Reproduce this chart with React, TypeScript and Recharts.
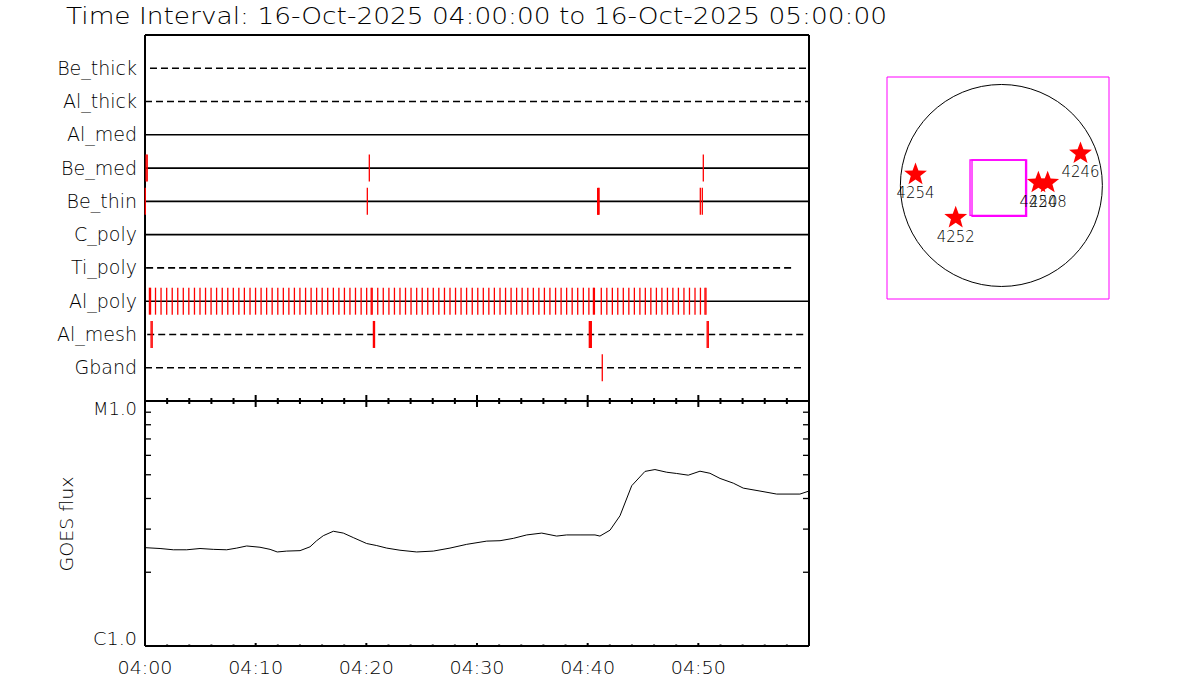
import React from 'react';
import {
  ComposedChart,
  Scatter,
  Line,
  XAxis,
  YAxis,
  ReferenceLine,
  ReferenceArea,
  ReferenceDot,
} from 'recharts';

const FONT = "'DejaVu Sans ExtraLight', 'DejaVu Sans', 'Liberation Sans', sans-serif";
const FW = 200;

// ---------- texts ----------
const titleText = 'Time Interval: 16-Oct-2025 04:00:00 to 16-Oct-2025 05:00:00';
const fluxAxisLabel = 'GOES flux';

// ---------- time axis (minutes after 04:00) ----------
const timeTicks = [0, 2, 4, 6, 8, 10, 12, 14, 16, 18, 20, 22, 24, 26, 28, 30, 32, 34, 36, 38, 40, 42, 44, 46, 48, 50, 52, 54, 56, 58, 60];
const majorTimes = [0, 10, 20, 30, 40, 50, 60];
const timeLabelValues = [0, 10, 20, 30, 40, 50];
const timeLabelTexts = ['04:00', '04:10', '04:20', '04:30', '04:40', '04:50'];

// ---------- detector rows (top to bottom) ----------
const rowNames = ['Be_thick', 'Al_thick', 'Al_med', 'Be_med', 'Be_thin', 'C_poly', 'Ti_poly', 'Al_poly', 'Al_mesh', 'Gband'];
const rowDashed = [true, true, false, false, false, false, true, false, true, true];
const rowStart = [0.45, 0, 0, 0, 0, 0, 0.1, 0, 0.2, 0];
const rowEnd = [60, 60, 60, 60, 60, 60, 58.6, 60, 59.7, 59.5];

// exposure marks (minutes after 04:00)
const beThickMarks: number[] = [];
const alThickMarks: number[] = [];
const alMedMarks: number[] = [];
const beMedMarks = [0.1, 0.2, 20.27, 50.45];
const beThinMarks = [0.03, 20.09, 40.9, 40.97, 41.03, 50.18, 50.36];
const cPolyMarks: number[] = [];
const tiPolyMarks: number[] = [];
const alPolyMarks = [
  0.4, 0.5, 0.95, 1.45, 1.96, 2.46, 2.96, 3.46, 3.96, 4.47, 4.97, 5.47, 5.97, 6.47, 6.98, 7.48, 7.98, 8.48, 8.98,
  9.49, 9.99, 10.49, 10.99, 11.49, 12.0, 12.5, 13.0, 13.5, 14.0, 14.51, 15.01, 15.51, 16.01, 16.51, 17.02, 17.52,
  18.02, 18.52, 19.02, 19.53, 20.03, 20.44, 20.53, 21.03, 21.53, 22.04, 22.54, 23.04, 23.54, 24.04, 24.55, 25.05,
  25.55, 26.05, 26.55, 27.06, 27.56, 28.06, 28.56, 29.06, 29.57, 30.07, 30.57, 31.07, 31.57, 32.08, 32.58, 33.08,
  33.58, 34.08, 34.59, 35.09, 35.59, 36.09, 36.59, 37.1, 37.6, 38.1, 38.6, 39.1, 39.61, 40.11, 40.52, 40.61, 41.23,
  41.73, 42.23, 42.72, 43.22, 43.72, 44.22, 44.72, 45.21, 45.71, 46.21, 46.71, 47.21, 47.7, 48.2, 48.7, 49.2, 49.7,
  50.19, 50.6, 50.69,
];
const alMeshMarks = [0.55, 0.65, 20.64, 20.74, 40.15, 40.24, 40.33, 50.8, 50.9];
const gbandMarks = [41.32];
const rowMarks = [beThickMarks, alThickMarks, alMedMarks, beMedMarks, beThinMarks, cPolyMarks, tiPolyMarks, alPolyMarks, alMeshMarks, gbandMarks];

// ---------- GOES flux (units of 1e-6 W/m^2, i.e. C-class level) ----------
const goesTime = [
  0, 1.36, 2.56, 3.77, 4.97, 6.17, 7.38, 8.29, 9.19, 10.39, 11.3, 11.95, 12.8, 14.01, 14.91, 15.51, 16.11, 17.02,
  17.92, 18.82, 20.03, 20.94, 21.84, 23.04, 24.55, 26.05, 27.56, 29.07, 30.88, 32.08, 33.28, 34.49, 35.85, 37.2,
  38.1, 39.31, 40.66, 41.11, 42.02, 42.92, 43.98, 45.18, 46.08, 47.14, 48.04, 49.09, 50.15, 51.05, 51.96, 53.16,
  54.06, 55.57, 57.08, 59.18, 60.0,
];
const goesLevel = [
  2.52, 2.5, 2.47, 2.47, 2.5, 2.48, 2.47, 2.51, 2.56, 2.53, 2.48, 2.42, 2.44, 2.45, 2.54, 2.69, 2.82, 2.94, 2.89,
  2.77, 2.62, 2.57, 2.51, 2.46, 2.42, 2.44, 2.51, 2.6, 2.68, 2.69, 2.75, 2.84, 2.89, 2.81, 2.84, 2.84, 2.84, 2.81,
  2.97, 3.4, 4.51, 5.16, 5.25, 5.12, 5.06, 4.98, 5.17, 5.07, 4.83, 4.62, 4.41, 4.29, 4.17, 4.17, 4.29,
];
const fluxTicks = [1e-6, 2e-6, 3e-6, 4e-6, 5e-6, 6e-6, 7e-6, 8e-6, 9e-6, 1e-5];
const fluxLabelValues = [1e-6, 1e-5];
const fluxLabelTexts = ['C1.0', 'M1.0'];

// ---------- solar map (arcsec) ----------
const arNumbers = ['4254', '4252', '4246', '4250', '4248'];
const arX = [-816, -434, 752, 352, 440];
const arY = [105, -306, 305, 27, 27];
const fovX1 = [-298, -279];
const fovX2 = [230, 240];
const fovY1 = [-285, -294];
const fovY2 = [242, 242];
const mapXDomain = [-1087, 1023];
const mapYDomain = [-1079, 1031];

// ---------- derived tables ----------
const markData = rowMarks.flatMap((list, i) => list.map((t) => ({ t, row: 10 - i })));
const goesData = goesTime.map((t, i) => ({ t, flux: goesLevel[i] * 1e-6 }));
const arData = arNumbers.map((n, i) => ({ x: arX[i], y: arY[i], label: n }));

// ---------- custom ticks ----------
function makeTimeTick(dir: number, majorLen: number, minorLen: number, labels: boolean) {
  return (props: any) => {
    const { x, y, payload } = props;
    const v = payload.value;
    const isMajor = majorTimes.includes(v);
    const len = isMajor ? majorLen : minorLen;
    const li = timeLabelValues.indexOf(v);
    return (
      <g>
        <line x1={x} x2={x} y1={y} y2={y + dir * len} stroke="#000" strokeWidth={2} />
        {labels && li >= 0 ? (
          <text
            x={x}
            y={y + 28}
            textAnchor="middle"
            fontSize={17.5}
            fontFamily={FONT}
            fontWeight={FW}
            fill="#000"
            textLength={55}
            lengthAdjust="spacingAndGlyphs"
          >
            {timeLabelTexts[li]}
          </text>
        ) : null}
      </g>
    );
  };
}

const RowTick = (props: any) => {
  const { x, y, payload } = props;
  const name = rowNames[10 - payload.value];
  return (
    <text x={x - 8} y={y + 6.5} textAnchor="end" fontSize={19} fontFamily={FONT} fontWeight={FW} fill="#000">
      {name}
    </text>
  );
};

function makeFluxTick(side: 'left' | 'right') {
  return (props: any) => {
    const { x, y, payload } = props;
    const v = payload.value;
    const li = fluxLabelValues.findIndex((f) => Math.abs(f - v) / f < 1e-6);
    const dir = side === 'left' ? 1 : -1;
    return (
      <g>
        {li < 0 ? <line x1={x} x2={x + dir * 6} y1={y} y2={y} stroke="#000" strokeWidth={1.3} /> : null}
        {side === 'left' && li >= 0 ? (
          <text
            x={x - 8}
            y={li === 1 ? y + 14 : y - 1}
            textAnchor="end"
            fontSize={17}
            fontFamily={FONT}
            fontWeight={FW}
            fill="#000"
            textLength={44}
            lengthAdjust="spacingAndGlyphs"
          >
            {fluxLabelTexts[li]}
          </text>
        ) : null}
      </g>
    );
  };
}

const MarkShape = (p: any) => (
  <line x1={p.cx} x2={p.cx} y1={p.cy - 13.5} y2={p.cy + 13.5} stroke="#ff0000" strokeWidth={1.3} />
);

function starPath(cx: number, cy: number, R: number, r: number) {
  let d = '';
  for (let k = 0; k < 10; k++) {
    const rad = k % 2 === 0 ? R : r;
    const a = -Math.PI / 2 + (k * Math.PI) / 5;
    d += (k === 0 ? 'M' : 'L') + (cx + rad * Math.cos(a)).toFixed(2) + ',' + (cy + rad * Math.sin(a)).toFixed(2);
  }
  return d + 'Z';
}

const StarShape = (p: any) => (
  <g>
    <path d={starPath(p.cx, p.cy, 12, 5)} fill="#ff0000" stroke="none" />
    <text
      x={p.cx}
      y={p.cy + 24}
      textAnchor="middle"
      fontSize={15}
      fontFamily={FONT}
      fontWeight={FW}
      fill="#000"
      textLength={38}
      lengthAdjust="spacingAndGlyphs"
    >
      {p.payload.label}
    </text>
  </g>
);

const axisLine = { stroke: '#000', strokeWidth: 2 };

export default function App() {
  return (
    <div style={{ position: 'absolute', left: 0, top: 0, width: 1200, height: 700, background: '#fff', overflow: 'hidden' }}>
      <svg width={1200} height={40} style={{ position: 'absolute', left: 0, top: 0 }}>
        <text
          x={66}
          y={24}
          fontSize={23}
          fontFamily={FONT}
          fontWeight={FW}
          fill="#000"
          textLength={821}
          lengthAdjust="spacingAndGlyphs"
        >
          {titleText}
        </text>
      </svg>

      {/* Upper panel: detector exposures */}
      <div style={{ position: 'absolute', left: 0, top: 0 }}>
        <ComposedChart width={860} height={420} margin={{ top: 30, right: 51, bottom: 14, left: 45 }}>
          <XAxis
            xAxisId="top"
            orientation="top"
            type="number"
            dataKey="t"
            domain={[0, 60]}
            ticks={timeTicks}
            interval={0}
            height={5}
            tickSize={0}
            tickMargin={0}
            tickLine={false}
            axisLine={axisLine}
            tick={makeTimeTick(1, 7, 4, false)}
          />
          <XAxis
            xAxisId="bot"
            orientation="bottom"
            type="number"
            dataKey="t"
            domain={[0, 60]}
            ticks={timeTicks}
            interval={0}
            height={5}
            tickSize={0}
            tickMargin={0}
            tickLine={false}
            axisLine={axisLine}
            tick={makeTimeTick(-1, 6, 3, false)}
          />
          <YAxis
            yAxisId="rows"
            type="number"
            dataKey="row"
            domain={[0, 11]}
            ticks={[1, 2, 3, 4, 5, 6, 7, 8, 9, 10]}
            interval={0}
            width={100}
            tickSize={0}
            tickMargin={0}
            tickLine={false}
            axisLine={axisLine}
            tick={RowTick}
          />
          <ReferenceLine xAxisId="bot" yAxisId="rows" x={60} stroke="#000" strokeWidth={2} />
          {rowNames.map((name, i) => (
            <ReferenceLine
              key={name}
              xAxisId="bot"
              yAxisId="rows"
              segment={[
                { x: rowStart[i], y: 10 - i },
                { x: rowEnd[i], y: 10 - i },
              ]}
              stroke="#000"
              strokeWidth={1.6}
              strokeDasharray={rowDashed[i] ? '7 4' : undefined}
            />
          ))}
          <Scatter
            xAxisId="bot"
            yAxisId="rows"
            data={markData}
            dataKey="row"
            shape={MarkShape}
            isAnimationActive={false}
          />
        </ComposedChart>
      </div>

      {/* Lower panel: GOES flux */}
      <div style={{ position: 'absolute', left: 0, top: 390 }}>
        <ComposedChart width={860} height={310} data={goesData} margin={{ top: 6, right: 46, bottom: 24, left: 45 }}>
          <XAxis
            xAxisId="top"
            orientation="top"
            type="number"
            dataKey="t"
            domain={[0, 60]}
            ticks={timeTicks}
            interval={0}
            height={5}
            tickSize={0}
            tickMargin={0}
            tickLine={false}
            axisLine={axisLine}
            tick={makeTimeTick(1, 6, 3, false)}
          />
          <XAxis
            xAxisId="bot"
            orientation="bottom"
            type="number"
            dataKey="t"
            domain={[0, 60]}
            ticks={timeTicks}
            interval={0}
            height={30}
            tickSize={0}
            tickMargin={0}
            tickLine={false}
            axisLine={axisLine}
            tick={makeTimeTick(-1, 3, 1.5, true)}
          />
          <YAxis
            yAxisId="left"
            type="number"
            scale="log"
            domain={[1e-6, 1e-5]}
            ticks={fluxTicks}
            interval={0}
            allowDataOverflow
            width={100}
            tickSize={0}
            tickMargin={0}
            tickLine={false}
            axisLine={axisLine}
            tick={makeFluxTick('left')}
            label={{
              content: () => (
                <text
                  x={67}
                  y={134}
                  transform="rotate(-90 67 134)"
                  textAnchor="middle"
                  dominantBaseline="central"
                  fontSize={17}
                  fontFamily={FONT}
                  fontWeight={FW}
                  fill="#000"
                  textLength={95}
                  lengthAdjust="spacingAndGlyphs"
                >
                  {fluxAxisLabel}
                </text>
              ),
            }}
          />
          <YAxis
            yAxisId="right"
            orientation="right"
            type="number"
            scale="log"
            domain={[1e-6, 1e-5]}
            ticks={fluxTicks}
            interval={0}
            allowDataOverflow
            width={5}
            tickSize={0}
            tickMargin={0}
            tickLine={false}
            axisLine={axisLine}
            tick={makeFluxTick('right')}
          />
          <Line
            xAxisId="bot"
            yAxisId="left"
            type="linear"
            dataKey="flux"
            stroke="#000"
            strokeWidth={1}
            dot={false}
            isAnimationActive={false}
          />
        </ComposedChart>
      </div>

      {/* Solar disk map */}
      <div style={{ position: 'absolute', left: 880, top: 70 }}>
        <ComposedChart width={240} height={240} margin={{ top: 7, right: 11, bottom: 11, left: 7 }}>
          <XAxis type="number" dataKey="x" domain={mapXDomain} hide allowDataOverflow />
          <YAxis type="number" dataKey="y" domain={mapYDomain} hide allowDataOverflow />
          <ReferenceArea
            x1={mapXDomain[0]}
            x2={mapXDomain[1]}
            y1={mapYDomain[0]}
            y2={mapYDomain[1]}
            fill="none"
            fillOpacity={0}
            stroke="#ff00ff"
            strokeWidth={1}
          />
          <ReferenceDot x={0} y={0} r={101} fill="none" stroke="#000" strokeWidth={1} />
          {fovX1.map((x1, i) => (
            <ReferenceArea
              key={i}
              x1={x1}
              x2={fovX2[i]}
              y1={fovY1[i]}
              y2={fovY2[i]}
              fill="none"
              fillOpacity={0}
              stroke="#ff00ff"
              strokeWidth={1.3}
            />
          ))}
          <Scatter data={arData} dataKey="y" shape={StarShape} isAnimationActive={false} />
        </ComposedChart>
      </div>
    </div>
  );
}
